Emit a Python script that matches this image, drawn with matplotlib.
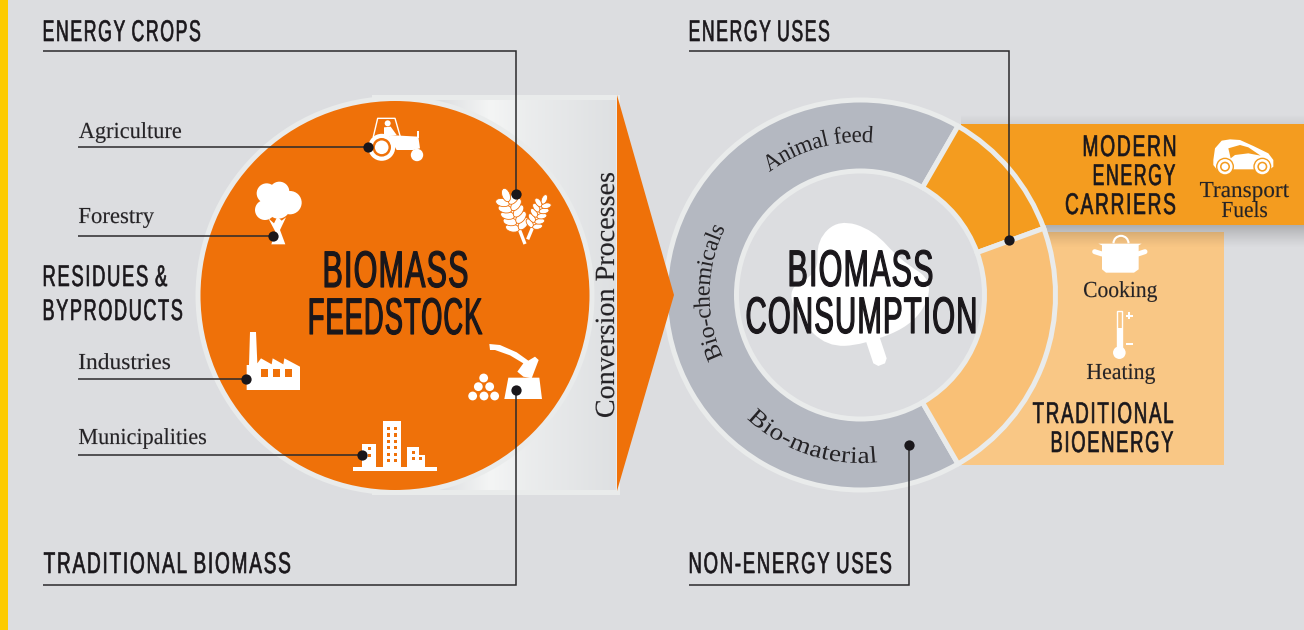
import numpy as np, matplotlib
matplotlib.use('Agg')
import matplotlib.pyplot as plt
from matplotlib.patches import Circle, Wedge, Polygon, Rectangle, Ellipse, Arc, PathPatch
from matplotlib.path import Path
from matplotlib.patheffects import AbstractPathEffect
from matplotlib.transforms import Affine2D, IdentityTransform

W, H = 1304, 630
BG = '#dcdde0'
RIM = '#e9ebeb'
ORANGE = '#ef7109'
AMBER = '#f49c1f'
PEACH = '#f9c076'
PEACH_BOX = '#f9c785'
GRAY = '#b4b8c1'
INK = '#1a171b'

# ring of the consumption wheel, angles in screen degrees
ring_names = ['Non-energy', 'Modern', 'Traditional']
ring_from = [60, 20, -60]
ring_to = [300, 60, 20]
ring_colors = [GRAY, AMBER, PEACH]

# headings: text, x from, x to, baseline
heading_text = ['ENERGY CROPS', 'RESIDUES &', 'BYPRODUCTS', 'TRADITIONAL BIOMASS',
                'ENERGY USES', 'NON-ENERGY USES', 'MODERN', 'ENERGY', 'CARRIERS',
                'TRADITIONAL', 'BIOENERGY']
heading_x0 = [44, 44, 44, 44, 690, 690, 1084, 1094, 1066, 1033, 1052]
heading_x1 = [200, 167, 182, 290, 829, 891, 1175, 1175, 1175, 1173, 1173]
heading_y = [41, 286, 320, 573, 41, 573, 156, 185, 214, 423, 452]

title_text = ['BIOMASS', 'FEEDSTOCK', 'BIOMASS', 'CONSUMPTION']
title_x0 = [325, 310, 790, 747]
title_x1 = [467, 482, 932, 975]
title_y = [287, 334, 286, 333]

serif_text = ['Agriculture', 'Forestry', 'Industries', 'Municipalities', 'Cooking', 'Heating', 'Transport', 'Fuels']
serif_x0 = [79, 79, 79, 79, 1084, 1087, 1200, 1222]
serif_x1 = [181, 154, 170, 206, 1157, 1155, 1289, 1267]
serif_y = [138, 223, 369, 444, 297, 379, 197, 217]

arc_text = ['Animal feed', 'Bio-chemicals', 'Bio-material']
arc_radius = [153, 151, 168]
arc_start = [126.5, 204, 227.6]
arc_end = [85.5, 154, 275.7]

# callouts: polyline and dot
line_xs = [[78, 368], [78, 273], [78, 246], [78, 362], [43, 515.5, 515.5], [43, 515.5, 515.5], [689, 1009, 1009], [689, 909, 909]]
line_ys = [[147, 147], [236, 236], [379, 379], [455, 455], [50.5, 50.5, 194], [585, 585, 390], [50.5, 50.5, 240], [585, 585, 445]]


def spread(tpath, gap):
    # open up the letter spacing of a text path, one contour group per glyph
    verts = tpath.vertices.copy()
    codes = tpath.codes
    starts = np.flatnonzero(codes == Path.MOVETO)
    ink = codes != Path.CLOSEPOLY
    k, right = -1, -np.inf
    for s, e in zip(starts, np.append(starts[1:], len(codes))):
        xs = verts[s:e, 0][ink[s:e]]
        if xs.min() >= right:
            k += 1
        right = max(right, xs.max())
        verts[s:e, 0] += k * gap
    return Path(verts, codes), verts[ink, 0].min(), verts[ink, 0].max()


class Fit(AbstractPathEffect):
    # fit a text run to a pixel width (the condensed face is not installed)
    def __init__(self, width, stroke=0.0, track=0.0, x0=None, tall=1.0):
        self.width, self.stroke, self.track, self.x0, self.tall = width, stroke, track, x0, tall

    def draw_path(self, renderer, gc, tpath, affine, rgbFace=None):
        m = affine.get_matrix()
        path, lo, hi = spread(tpath, self.track)
        sx = self.width / ((hi - lo) * np.hypot(m[0, 0], m[1, 0]))
        xform = Affine2D().translate(-lo, 0).scale(sx, self.tall) + affine
        if self.x0 is not None:
            xform = xform + Affine2D().translate(self.x0 - m[0, 2], 0)
        gc0 = renderer.new_gc()
        gc0.copy_properties(gc)
        gc0.set_linewidth(self.stroke)
        gc0.set_foreground(rgbFace)
        renderer.draw_path(gc0, path, xform, rgbFace)
        gc0.restore()


class OnArc(AbstractPathEffect):
    # bend a text run along a circle
    def __init__(self, cx, cy, r, a0, a1):
        self.cx, self.cy, self.r, self.a0, self.a1 = cx, cy, r, a0, a1

    def draw_path(self, renderer, gc, tpath, affine, rgbFace=None):
        m = affine.get_matrix()
        s = np.hypot(m[0, 0], m[1, 0])
        v = tpath.vertices
        ink = tpath.codes != Path.CLOSEPOLY
        lo, hi = v[ink, 0].min(), v[ink, 0].max()
        ang = np.radians(self.a0 + (self.a1 - self.a0) * (v[:, 0] - lo) / (hi - lo))
        sign = 1 if self.a1 < self.a0 else -1
        rad = self.r + sign * v[:, 1] * s
        pts = np.c_[self.cx + rad * np.cos(ang), H - self.cy + rad * np.sin(ang)]
        renderer.draw_path(gc, Path(pts, tpath.codes), IdentityTransform(), rgbFace)


fig = plt.figure(figsize=(W / 100, H / 100), dpi=100, facecolor=BG)
ax = fig.add_axes([0, 0, 1, 1])
ax.set_axis_off()


def z(ox, oy, pts):
    return [(ox + a / 3, oy + b / 3) for a, b in pts]


def poly(pts, c='white', zo=6, **kw):
    ax.add_patch(Polygon(pts, closed=True, fc=c, ec='none', zorder=zo, **kw))


def disc(x, y, r, c='white', zo=6):
    ax.add_patch(Circle((x, y), r, fc=c, ec='none', zorder=zo))


def box(x0, y0, x1, y1, c='white', zo=6):
    ax.add_patch(Rectangle((x0, y0), x1 - x0, y1 - y0, fc=c, ec='none', zorder=zo))


def blob(pts, c='white', zo=3):
    # smooth closed shape through midpoints of a control polygon
    p = np.array(pts, float)
    mid = (p + np.roll(p, -1, axis=0)) / 2
    verts, codes = [mid[-1]], [Path.MOVETO]
    for a, b in zip(p, mid):
        verts += [a, b]
        codes += [Path.CURVE3, Path.CURVE3]
    ax.add_patch(PathPatch(Path(verts, codes), fc=c, ec='none', zorder=zo))


def ear(x0, y0, x1, y1, n, ln, wd):
    ax.plot([x0, x1], [y0, y1], color='white', lw=2.4, solid_capstyle='butt', zorder=6)
    d = np.arctan2(y1 - y0, x1 - x0)
    for t in np.linspace(0.3, 0.82, n):
        px, py = x0 + t * (x1 - x0), y0 + t * (y1 - y0)
        for side in (-1, 1):
            a = d + side * np.radians(58)
            ax.add_patch(Ellipse((px + np.cos(a) * ln / 2, py + np.sin(a) * ln / 2), ln, wd, angle=np.degrees(a),
                                 fc='white', ec=ORANGE, lw=0.6, zorder=6))
    ax.add_patch(Ellipse((x1, y1), ln, wd, angle=np.degrees(d), fc='white', ec=ORANGE, lw=0.6, zorder=6))


# page
box(0, 0, 7.5, H, '#fdcb00', 0)

# funnel behind the feedstock circle
stops = np.interp(np.linspace(372, 616, 244), [372, 440, 490, 530, 616], [0, 0, 1, 0.6, 0.05])
tone = np.array([0xdd, 0xdf, 0xe1]) + stops[:, None] * (np.array([0xf4, 0xf5, 0xf5]) - np.array([0xdd, 0xdf, 0xe1]))
ax.imshow(tone[None, :, :] / 255, extent=(372, 616, 490, 100), aspect='auto', zorder=1)
box(372, 95, 620, 100, RIM, 1)
box(372, 490, 620, 494.5, RIM, 1)
box(616, 95, 620, 494.5, RIM, 1)
ax.add_patch(Circle((395, 295.5), 197, fc=ORANGE, ec=RIM, lw=3.6, zorder=2))

# bands on the right of the wheel
box(961, 232, 1224, 465, PEACH_BOX, 1)
box(961, 124, 1304, 225, AMBER, 1)
fade = np.zeros((24, 2, 4))
fade[:, :, 3] = np.linspace(0.3, 0, 24)[:, None] ** 1.3
ax.imshow(fade, extent=(1040, 1304, 249, 225), aspect='auto', zorder=1.5)
top = np.zeros((10, 2, 4))
top[:, :, 3] = np.linspace(0, 0.06, 10)[:, None]
ax.imshow(top, extent=(961, 1304, 124, 114), aspect='auto', zorder=1.5)

# wheel
disc(860.5, 295, 123, BG, 1.8)
for name, t0, t1, col in zip(ring_names, ring_from, ring_to, ring_colors):
    lo, hi = (t0, t1) if name == 'Non-energy' else (-t1, -t0)
    ax.add_patch(Wedge((860.5, 295), 195, lo, hi, width=71, fc=col, ec=RIM, lw=3.6, zorder=2))

# leaf in the hub
blob(z(770, 210, [(207, 28), (310, 60), (390, 150), (495, 215), (440, 340), (280, 405), (170, 410), (90, 330), (50, 235),
                  (145, 190), (140, 90)]))
poly(z(770, 210, [(285, 385), (325, 370), (350, 445), (345, 460), (325, 468), (310, 460)]), zo=3)

# arrow
ax.fill([617, 674, 617], [95, 295, 491], color=ORANGE, lw=0, zorder=3)

# tractor
disc(381.7, 147.3, 13.5)
disc(381.7, 147.3, 9.3, ORANGE)
disc(381.7, 147.3, 6.8)
disc(417, 155, 6.2)
poly(z(200, 90, [(565, 135), (655, 140), (660, 175), (640, 180), (590, 180)]))
ax.plot(*zip(*z(200, 90, [(520, 140), (533, 85), (585, 85), (600, 137)])), color='white', lw=1, zorder=6)
disc(200 + 563 / 3, 90 + 100 / 3, 3)
poly(z(200, 90, [(552, 112), (572, 110), (590, 135), (552, 140)]))
box(417, 131, 418.5, 138)

# tree
for a, b, r in [(200, 310, 30), (238, 305, 30), (270, 338, 35), (195, 360, 30), (235, 350, 36)]:
    disc(200 + a / 3, 90 + b / 3, r / 3)
poly(z(200, 90, [(205, 385), (222, 400), (232, 380), (245, 392), (258, 382), (240, 420), (256, 463), (214, 463), (226, 425)]))

# wheat
ear(200 + 975 / 3, 90 + 462 / 3, 200 + 918 / 3, 90 + 315 / 3, 5, 14, 8)
ear(200 + 983 / 3, 90 + 448 / 3, 200 + 1033 / 3, 90 + 328 / 3, 5, 10, 5.5)

# factory
poly(z(200, 310, [(150, 66), (168, 66), (172, 160), (183, 145), (215, 163), (218, 145), (250, 163), (253, 145), (300, 170),
                  (300, 240), (140, 240), (140, 165), (147, 165)]))
for a in (183, 219, 255):
    box(200 + a / 3, 310 + 178 / 3, 200 + (a + 20) / 3, 310 + 200 / 3, ORANGE)

# axe, stump, logs
poly(z(200, 310, [(868, 102), (900, 105), (950, 127), (985, 152), (1005, 140), (1016, 150), (995, 205), (970, 200), (952, 185),
                  (970, 160), (930, 136), (885, 120), (870, 120)]))
poly(z(200, 310, [(925, 203), (1018, 203), (1026, 267), (913, 267)]))
for a, b in [(851, 204), (835, 230), (869, 230), (818, 258), (852, 258), (884, 258)]:
    disc(200 + a / 3, 310 + b / 3, 4.4)

# city
box(353.3, 466.7, 436.7, 470.7)
box(362.3, 444, 376, 468)
box(382.7, 421, 401, 468)
box(407, 447.3, 419, 468)
box(419, 455, 425, 468)
for row in (350, 370, 390, 408, 428, 447):
    for col in (560, 582):
        box(200 + col / 3, 310 + row / 3, 200 + (col + 10) / 3, 310 + (row + 10) / 3, ORANGE)
for a, b in [(503, 412), (503, 432), (635, 422), (635, 442), (657, 442)]:
    box(200 + a / 3, 310 + b / 3, 200 + (a + 10) / 3, 310 + (b + 9) / 3, ORANGE)

# car
poly(z(920, 110, [(880, 150), (885, 115), (905, 92), (930, 88), (960, 90), (1000, 108), (1045, 130), (1060, 150), (1060, 170),
                  (1050, 178), (890, 178), (880, 165)]))
poly(z(920, 110, [(925, 115), (960, 105), (985, 112), (1022, 137), (985, 130), (945, 135), (932, 145)]), AMBER)
for a in (915, 1027):
    disc(920 + a / 3, 110 + 170 / 3, 9, AMBER)
    disc(920 + a / 3, 110 + 170 / 3, 7.6)
    disc(920 + a / 3, 110 + 170 / 3, 5, AMBER)
    disc(920 + a / 3, 110 + 170 / 3, 3.4)

# pot
ax.add_patch(Arc((920 + 603 / 3, 110 + 400 / 3), 15, 15, theta1=180, theta2=360, color='white', lw=1.5, zorder=6))
poly(z(920, 110, [(535, 401), (665, 401), (656, 406), (656, 478), (642, 488), (558, 488), (546, 478), (546, 406)]))
ax.plot(*zip(*z(920, 110, [(524, 425), (546, 432)])), color='white', lw=3.6, solid_capstyle='round', zorder=6)
ax.plot(*zip(*z(920, 110, [(675, 425), (654, 432)])), color='white', lw=3.6, solid_capstyle='round', zorder=6)

# thermometer
disc(920 + 598 / 3, 110 + 728 / 3, 6.3)
ax.add_patch(Rectangle((920 + 590 / 3, 110 + 603 / 3), 5.6, 40, fc='none', ec='white', lw=1, zorder=6))
box(920 + 590 / 3, 110 + 655 / 3, 920 + 607 / 3, 110 + 720 / 3)
box(920 + 617 / 3, 110 + 614 / 3, 920 + 638 / 3, 110 + 620 / 3)
box(920 + 625 / 3, 110 + 606 / 3, 920 + 630 / 3, 110 + 628 / 3)
box(920 + 617 / 3, 110 + 698 / 3, 920 + 638 / 3, 110 + 704 / 3)

# callouts
for xs, ys in zip(line_xs, line_ys):
    ax.plot(xs, ys, color='#2b2a2c', lw=1.1, solid_capstyle='butt', solid_joinstyle='miter', zorder=7)
    ax.plot(xs[-1], ys[-1], 'o', color=INK, ms=7.4, mew=0, zorder=8)

# text
narrow = ['Liberation Sans Narrow', 'Liberation Sans']
for s, a, b, y in zip(heading_text, heading_x0, heading_x1, heading_y):
    right = a > 1000
    ax.text(b if right else a, y, s, family=narrow, fontsize=21.5, color=INK, ha='right' if right else 'left', va='baseline',
            zorder=9, path_effects=[Fit(b - a, 0.45, 9, a)])
for s, a, b, y in zip(title_text, title_x0, title_x1, title_y):
    ax.text(a, y, s, family=narrow, fontsize=30, color=INK, ha='left', va='baseline',
            zorder=9, path_effects=[Fit(b - a, 0.85, 4, a, 37 / 30)])
for s, a, b, y in zip(serif_text, serif_x0, serif_x1, serif_y):
    ax.text((a + b) / 2, y, s, family='Liberation Serif', fontsize=16.5, color='#252326', ha='center', va='baseline',
            zorder=9, path_effects=[Fit(b - a, 0.1, 0, a)])
ax.text(614, 417, 'Conversion Processes', family='Liberation Serif', fontsize=20, color='#252326', rotation=90,
        rotation_mode='anchor', ha='left', va='baseline', zorder=9, path_effects=[Fit(244, 0.1)])
for s, r, a0, a1 in zip(arc_text, arc_radius, arc_start, arc_end):
    mid = (a0 + a1) / 2
    turn = mid - 90 if a1 < a0 else mid + 90
    ax.text(860.5 + r * np.cos(np.radians(mid)), 295 - r * np.sin(np.radians(mid)), s, family='Liberation Serif', fontsize=17,
            color='#252326', rotation=turn, ha='center', va='center', zorder=9, path_effects=[OnArc(860.5, 295, r, a0, a1)])

ax.set_xlim(0, W)
ax.set_ylim(H, 0)
fig.savefig('out.png', dpi=100, facecolor=BG)
